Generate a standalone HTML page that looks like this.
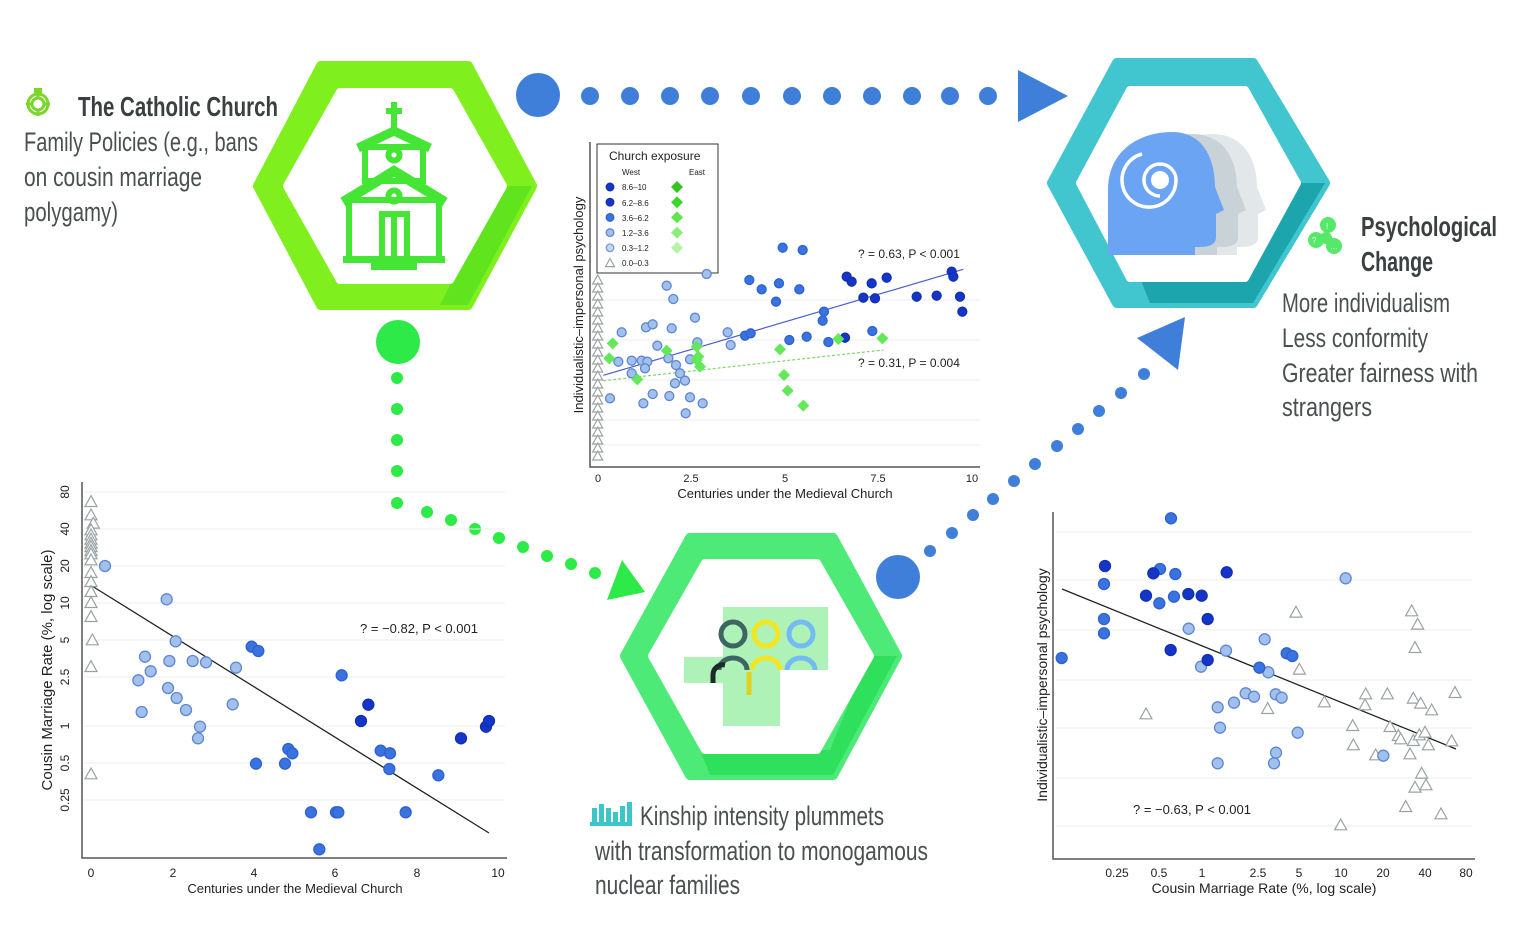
<!DOCTYPE html>
<html><head><meta charset="utf-8"><style>
html,body{margin:0;padding:0;background:#fff;}
svg{display:block;}
.t{font-family:"Liberation Sans Narrow","Liberation Sans",sans-serif;fill:#4a4f50;}
.b{font-weight:bold;fill:#3a3f40;}
.s{font-family:"Liberation Sans",sans-serif;fill:#222;}
</style></head><body>
<svg id="g" width="1535" height="945" viewBox="0 0 1535 945" xmlns="http://www.w3.org/2000/svg">
<rect width="1535" height="945" fill="#fff"/>

<!-- Church hexagon -->
<polygon points="258,186 321,66 468,66 532,186 468,305 321,305" fill="#7ff01e" stroke="#7ff01e" stroke-width="10" stroke-linejoin="round"/>
<polygon points="440,305 468,305 532,186 500,186" fill="#5fe41e"/>
<polygon points="287,186 340,92 450,92 503,186 450,280 340,280" fill="#fff" stroke="#fff" stroke-width="8" stroke-linejoin="round"/>
<!-- church icon -->
<g fill="none" stroke="#45e535" stroke-width="6" stroke-linejoin="miter">
<line x1="394" y1="102" x2="394" y2="130"/><line x1="386" y1="111" x2="402" y2="111"/>
<polyline points="358,148 394,131 430,148" stroke-width="9"/>
<rect x="365" y="147" width="58" height="34"/>
<polyline points="343,202 394,171 445,202" stroke-width="10"/>
<rect x="349" y="200" width="90" height="60"/>
<rect x="382" y="214" width="25" height="46"/>
<line x1="394" y1="214" x2="394" y2="260"/>
<circle cx="394" cy="155" r="5.5"/><circle cx="394" cy="196" r="5.5"/>
</g>
<rect x="343" y="256" width="102" height="7" fill="#45e535"/>
<rect x="371" y="261" width="46" height="9" fill="#45e535"/>

<!-- Psych hexagon -->
<polygon points="1052,183 1117,63 1253,63 1325,183 1253,303 1117,303" fill="#41c6d0" stroke="#41c6d0" stroke-width="10" stroke-linejoin="round"/>
<polygon points="1150,303 1253,303 1325,183 1290,183 1250,278 1140,278" fill="#1ca5ad"/>
<polygon points="1080,183 1130,90 1245,90 1297,183 1245,278 1130,278" fill="#fff" stroke="#fff" stroke-width="8" stroke-linejoin="round"/>
<!-- heads -->
<path d="M1150,255 L1150,190 C1150,150 1182,134 1212,134 C1242,134 1257,157 1257,187 L1266,210 L1258,214 L1258,237 C1258,247 1247,247 1237,247 L1237,255 Z" fill="#e2e8ea"/>
<path d="M1130,255 L1130,190 C1130,150 1162,134 1192,134 C1222,134 1237,157 1237,187 L1246,210 L1238,214 L1238,237 C1238,247 1227,247 1217,247 L1217,255 Z" fill="#c9d3d7"/>
<path d="M1108,255 L1108,190 C1108,150 1140,132 1172,132 C1202,132 1215,157 1215,187 L1224,210 L1216,214 L1216,237 C1216,247 1205,247 1195,247 L1195,255 Z" fill="#6ba4f2"/>
<circle cx="1160" cy="180" r="9" fill="#fff"/>
<path d="M1160,196 a16,16 0 1 1 16,-16 M1176,180 a27,27 0 1 1 -34,-26" fill="none" stroke="#fff" stroke-width="3.5"/>

<!-- Kinship hexagon -->
<polygon points="625,656 690,538 833,538 897,656 833,775 690,775" fill="#4eea78" stroke="#4eea78" stroke-width="10" stroke-linejoin="round"/>
<polygon points="710,775 833,775 897,656 868,656 830,750 700,750" fill="#2fe05c"/>
<polygon points="652,656 705,563 817,563 870,656 817,750 705,750" fill="#fff" stroke="#fff" stroke-width="8" stroke-linejoin="round"/>
<rect x="723" y="607" width="105" height="63" fill="#aef2b8"/>
<rect x="684" y="657" width="39" height="26" fill="#aef2b8"/>
<rect x="723" y="670" width="57" height="56" fill="#aef2b8"/>
<g fill="none" stroke-width="5">
<circle cx="733" cy="634" r="12" stroke="#3d6663"/>
<circle cx="766" cy="634" r="12" stroke="#f1e524"/>
<circle cx="801" cy="634" r="12" stroke="#74bbf3"/>
<path d="M719,670 a14,12 0 0 1 28,0" stroke="#3d6663"/>
<path d="M752,670 a14,12 0 0 1 28,0" stroke="#f1e524"/>
<path d="M787,670 a14,12 0 0 1 28,0" stroke="#74bbf3"/>
<path d="M713,683 l0,-8 a10,10 0 0 1 12,-10" stroke="#1e2a2a"/>
<line x1="749" y1="672" x2="749" y2="695" stroke="#e0d020"/>
</g>

<!-- connectors -->
<g fill="#3f7fd9">
<circle cx="538" cy="95" r="22"/>
<circle cx="590" cy="96" r="9"/><circle cx="630" cy="96" r="9"/><circle cx="670" cy="96" r="9"/><circle cx="710" cy="96" r="9"/><circle cx="751" cy="96" r="9"/><circle cx="792" cy="96" r="9"/><circle cx="832" cy="96" r="9"/><circle cx="872" cy="96" r="9"/><circle cx="912" cy="96" r="9"/><circle cx="950" cy="96" r="9"/><circle cx="988" cy="96" r="9"/>
<polygon points="1018,70 1068,96 1018,122"/>
<circle cx="898" cy="577" r="22"/>
<circle cx="930" cy="551" r="6"/><circle cx="952" cy="533" r="6"/><circle cx="973" cy="515" r="6"/><circle cx="993" cy="499" r="6"/><circle cx="1014" cy="481" r="6"/><circle cx="1035" cy="464" r="6"/><circle cx="1057" cy="446" r="6"/><circle cx="1078" cy="429" r="6"/><circle cx="1099" cy="411" r="6"/><circle cx="1121" cy="393" r="6"/><circle cx="1144" cy="374" r="6"/>
<polygon points="1137,338 1185,317 1178,370"/>
</g>
<g fill="#2eea48">
<circle cx="398" cy="342" r="22"/>
<circle cx="397" cy="378" r="6"/><circle cx="397" cy="409" r="6"/><circle cx="397" cy="440" r="6"/><circle cx="397" cy="471" r="6"/><circle cx="397" cy="503" r="6"/>
<circle cx="427" cy="512" r="6"/><circle cx="451" cy="520" r="6"/><circle cx="475" cy="529" r="6"/><circle cx="499" cy="538" r="6"/><circle cx="523" cy="547" r="6"/><circle cx="547" cy="556" r="6"/><circle cx="571" cy="564" r="6"/><circle cx="595" cy="573" r="6"/>
<polygon points="607,600 622,560 645,592"/>
</g>

<!-- Text blocks -->
<g fill="none" stroke="#7ad62a" stroke-width="3"><circle cx="38" cy="104" r="10"/><circle cx="38" cy="104" r="4"/></g>
<g stroke="#7ad62a" stroke-width="3"><line x1="26" y1="104" x2="50" y2="104"/><line x1="38" y1="92" x2="38" y2="116"/></g>
<circle cx="38" cy="104" r="6" fill="#fff" stroke="#7ad62a" stroke-width="3"/>
<rect x="34" y="88" width="8" height="5" fill="#7ad62a"/>
<text class="t b" x="78" y="116" font-size="28" textLength="200" lengthAdjust="spacingAndGlyphs">The Catholic Church</text>
<text class="t" x="24" y="151" font-size="27" textLength="234" lengthAdjust="spacingAndGlyphs">Family Policies (e.g., bans</text>
<text class="t" x="24" y="186" font-size="27" textLength="178" lengthAdjust="spacingAndGlyphs">on cousin marriage</text>
<text class="t" x="24" y="221" font-size="27" textLength="94" lengthAdjust="spacingAndGlyphs">polygamy)</text>

<g fill="#55e96a"><circle cx="1328" cy="225" r="8"/><circle cx="1316" cy="240" r="8"/><circle cx="1334" cy="246" r="8"/><circle cx="1326" cy="238" r="6"/></g>
<g fill="#fff" font-family="Liberation Sans,sans-serif" font-size="8"><text x="1326" y="229">!</text><text x="1312" y="243">?</text><text x="1330" y="249">…</text></g>
<text class="t b" x="1361" y="236" font-size="28" textLength="136" lengthAdjust="spacingAndGlyphs">Psychological</text>
<text class="t b" x="1361" y="271" font-size="28" textLength="72" lengthAdjust="spacingAndGlyphs">Change</text>
<text class="t" x="1282" y="312" font-size="27" textLength="168" lengthAdjust="spacingAndGlyphs">More individualism</text>
<text class="t" x="1282" y="347" font-size="27" textLength="146" lengthAdjust="spacingAndGlyphs">Less conformity</text>
<text class="t" x="1282" y="382" font-size="27" textLength="196" lengthAdjust="spacingAndGlyphs">Greater fairness with</text>
<text class="t" x="1282" y="416" font-size="27" textLength="90" lengthAdjust="spacingAndGlyphs">strangers</text>

<g fill="#3cc6cc"><rect x="590" y="822" width="42" height="4"/><rect x="592" y="808" width="5" height="14"/><rect x="599" y="804" width="5" height="18"/><rect x="606" y="808" width="5" height="14"/><rect x="613" y="812" width="5" height="10"/><rect x="620" y="806" width="5" height="16"/><rect x="627" y="802" width="5" height="20"/></g>
<text class="t" x="640" y="825" font-size="27" textLength="244" lengthAdjust="spacingAndGlyphs">Kinship intensity plummets</text>
<text class="t" x="595" y="860" font-size="27" textLength="333" lengthAdjust="spacingAndGlyphs">with transformation to monogamous</text>
<text class="t" x="595" y="894" font-size="27" textLength="145" lengthAdjust="spacingAndGlyphs">nuclear families</text>

<!-- Center plot axes -->
<g stroke="#eee" stroke-width="1"><line x1="592" y1="300" x2="980" y2="300"/><line x1="592" y1="340" x2="980" y2="340"/><line x1="592" y1="380" x2="980" y2="380"/><line x1="592" y1="420" x2="980" y2="420"/><line x1="592" y1="445" x2="980" y2="445"/></g>
<polyline points="590,142 590,467 980,467" fill="none" stroke="#555" stroke-width="1.5"/>
<g class="s" font-size="11" text-anchor="middle"><text x="598" y="482">0</text><text x="691" y="482">2.5</text><text x="785" y="482">5</text><text x="878" y="482">7.5</text><text x="972" y="482">10</text></g>
<text class="s" x="785" y="498" font-size="13" text-anchor="middle">Centuries under the Medieval Church</text>
<text class="s" font-size="13" text-anchor="middle" transform="translate(583,305) rotate(-90)">Individualistic–impersonal psychology</text>
<text class="s" x="858" y="258" font-size="12">? = 0.63, P &lt; 0.001</text>
<text class="s" x="858" y="367" font-size="12">? = 0.31, P = 0.004</text>
<rect x="597" y="144" width="121" height="129" fill="#fff" stroke="#333" stroke-width="1"/>
<text class="s" x="609" y="160" font-size="12">Church exposure</text>
<text class="s" x="622" y="175" font-size="8">West</text><text class="s" x="689" y="175" font-size="8">East</text>
<g class="s" font-size="8"><text x="622" y="190">8.6–10</text><text x="622" y="206">6.2–8.6</text><text x="622" y="221">3.6–6.2</text><text x="622" y="236">1.2–3.6</text><text x="622" y="251">0.3–1.2</text><text x="622" y="266">0.0–0.3</text></g>

<!-- Bottom-left plot -->
<g stroke="#eee"><line x1="84" y1="492" x2="505" y2="492"/><line x1="84" y1="529" x2="505" y2="529"/><line x1="84" y1="566" x2="505" y2="566"/><line x1="84" y1="603" x2="505" y2="603"/><line x1="84" y1="640" x2="505" y2="640"/><line x1="84" y1="677" x2="505" y2="677"/><line x1="84" y1="726" x2="505" y2="726"/><line x1="84" y1="763" x2="505" y2="763"/><line x1="84" y1="800" x2="505" y2="800"/></g>
<polyline points="82,482 82,858 507,858" fill="none" stroke="#555" stroke-width="1.5"/>
<g class="s" font-size="12" text-anchor="middle"><text x="91" y="877">0</text><text x="173" y="877">2</text><text x="254" y="877">4</text><text x="335" y="877">6</text><text x="417" y="877">8</text><text x="498" y="877">10</text></g>
<g class="s" font-size="12" text-anchor="middle">
<text transform="translate(69,492) rotate(-90)">80</text><text transform="translate(69,529) rotate(-90)">40</text><text transform="translate(69,566) rotate(-90)">20</text><text transform="translate(69,603) rotate(-90)">10</text><text transform="translate(69,640) rotate(-90)">5</text><text transform="translate(69,677) rotate(-90)">2.5</text><text transform="translate(69,726) rotate(-90)">1</text><text transform="translate(69,763) rotate(-90)">0.5</text><text transform="translate(69,800) rotate(-90)">0.25</text></g>
<text class="s" x="295" y="893" font-size="13" text-anchor="middle">Centuries under the Medieval Church</text>
<text class="s" font-size="15" text-anchor="middle" transform="translate(52,670) rotate(-90)">Cousin Marriage Rate (%, log scale)</text>
<text class="s" x="360" y="633" font-size="13">? = −0.82, P &lt; 0.001</text>
<line x1="92" y1="586" x2="489" y2="833" stroke="#222" stroke-width="1.3"/>

<!-- Bottom-right plot -->
<g stroke="#eee"><line x1="1056" y1="532" x2="1472" y2="532"/><line x1="1056" y1="580" x2="1472" y2="580"/><line x1="1056" y1="630" x2="1472" y2="630"/><line x1="1056" y1="680" x2="1472" y2="680"/><line x1="1056" y1="728" x2="1472" y2="728"/><line x1="1056" y1="778" x2="1472" y2="778"/><line x1="1056" y1="826" x2="1472" y2="826"/></g>
<polyline points="1053,512 1053,859 1475,859" fill="none" stroke="#555" stroke-width="1.5"/>
<g class="s" font-size="12" text-anchor="middle"><text x="1117" y="877">0.25</text><text x="1159" y="877">0.5</text><text x="1202" y="877">1</text><text x="1258" y="877">2.5</text><text x="1299" y="877">5</text><text x="1341" y="877">10</text><text x="1383" y="877">20</text><text x="1425" y="877">40</text><text x="1466" y="877">80</text></g>
<text class="s" x="1264" y="893" font-size="14" text-anchor="middle">Cousin Marriage Rate (%, log scale)</text>
<text class="s" font-size="14" text-anchor="middle" transform="translate(1047,685) rotate(-90)">Individualistic–impersonal psychology</text>
<text class="s" x="1133" y="814" font-size="13">? = −0.63, P &lt; 0.001</text>
<line x1="1062" y1="589" x2="1456" y2="749" stroke="#222" stroke-width="1.3"/>
<g id="m"></g>
</svg>
<script>
var NS="http://www.w3.org/2000/svg",G=document.getElementById("m");
function el(t,a){var e=document.createElementNS(NS,t);for(var k in a)e.setAttribute(k,a[k]);G.appendChild(e);}
var ST={d:{fill:"#1535c6",stroke:"#1230b0"},m:{fill:"#3a72e0",stroke:"#2d62d0"},l:{fill:"#a2c0ec",stroke:"#5f86d2"},l2:{fill:"#c6d7f2",stroke:"#7a9ad6"}};
function C(x,y,s,r){el("circle",{cx:x,cy:y,r:r,fill:ST[s].fill,stroke:ST[s].stroke,"stroke-width":1.3});}
function T(x,y,r){el("polygon",{points:(x)+","+(y-r)+" "+(x-r)+","+(y+r*0.8)+" "+(x+r)+","+(y+r*0.8),fill:"#fff",stroke:"#9aa2a4","stroke-width":1.2});}
function D(x,y,r,f){el("polygon",{points:x+","+(y-r)+" "+(x+r)+","+y+" "+x+","+(y+r)+" "+(x-r)+","+y,fill:f||"#62e858"});}
function P(list,ox,oy,fn){list.forEach(function(p){fn(ox+p[0]/3,oy+p[1]/3);});}
el("line",{x1:560+130/3,y1:140+706/3,x2:560+1210/3,y2:140+388/3,stroke:"#4a5fd0","stroke-width":1.2});
el("line",{x1:560+130/3,y1:140+722/3,x2:560+970/3,y2:140+630/3,stroke:"#7fd86a","stroke-width":1.2,"stroke-dasharray":"3,2"});
var tr=[];for(var y=420;y<=950;y+=24)tr.push([113+(y%3)*5,y]);
P(tr,560,140,function(x,y){T(x,y,5);});
P([[1175,395],[1180,410],[1070,470],[1130,467],[1200,470],[1207,515],[860,410],[875,425],[980,413],[935,430],[910,473],[945,475],[855,593]],560,140,function(x,y){C(x,y,"d",4.5);});
P([[668,323],[728,330],[568,420],[605,448],[657,430],[718,448],[648,485],[792,515],[788,542],[555,587],[572,580],[688,600],[740,590],[805,606],[937,573]],560,140,function(x,y){C(x,y,"m",4.5);});
P([[440,402],[320,437],[340,477],[185,577],[258,562],[278,553],[335,565],[405,533],[503,577],[512,615],[292,617],[412,607],[175,665],[215,662],[245,662],[262,665],[255,685],[325,655],[348,675],[390,658],[215,700],[360,700],[375,722],[345,730],[150,775],[250,790],[278,762],[328,768],[390,772],[428,790],[377,820]],560,140,function(x,y){C(x,y,"l",4.5);});
P([[158,610],[148,655],[232,718],[320,632],[410,620],[415,650],[420,680],[410,660],[660,628],[672,705],[683,752],[730,797],[835,597],[967,595]],560,140,function(x,y){D(x,y,6);});
var lg=[["d","#33c41e"],["d","#3ad82a"],["m","#5ee64a"],["l","#8aec7a"],["l2","#b6f2a8"]];
lg.forEach(function(a,i){var y=187+i*15.2;C(610,y,a[0],3.8);D(677,y,6,a[1]);});
T(610,263,4.5);
var tb=[[183,65],[183,105],[190,130],[183,150],[183,165],[183,178],[183,190],[183,200],[183,212],[183,222],[183,240],[183,278],[183,305],[183,335],[183,368],[183,410],[187,480],[183,560],[183,882]];
P(tb,30,480,function(x,y){T(x,y,6);});
P([[225,258],[410,358],[437,484],[345,530],[418,543],[488,543],[528,547],[362,574],[618,563],[325,601],[414,624],[440,654],[468,690],[335,696],[608,673],[510,740],[504,775]],30,480,function(x,y){C(x,y,"l",5.5);});
P([[665,500],[685,513],[935,586],[678,851],[765,851],[775,807],[787,820],[843,997],[918,997],[925,997],[868,1108],[1052,812],[1080,820],[1078,867],[1225,886],[1127,997]],30,480,function(x,y){C(x,y,"m",5.5);});
P([[993,723],[1015,674],[1293,775],[1368,740],[1377,723]],30,480,function(x,y){C(x,y,"d",5.5);});
P([[798,337],[1145,333],[1163,373],[1155,443],[808,508],[348,642],[713,626],[883,606],[1007,582],[1072,582],[1005,615],[1150,595],[1172,610],[1205,630],[1275,578],[968,677],[1080,680],[1105,707],[1112,717],[1150,722],[1168,705],[1185,697],[1195,735],[1265,723],[970,735],[1037,765],[1140,762],[1175,820],[1155,862],[1188,855],[1127,920],[1233,942],[932,975]],1030,500,function(x,y){T(x,y,6);});
P([[947,235],[476,386],[588,452],[704,418],[513,500],[715,517],[647,580],[672,590],[737,583],[755,593],[612,608],[563,622],[570,683],[803,698],[738,758],[732,790],[563,790],[1060,767]],1030,500,function(x,y){C(x,y,"l",5.5);});
P([[423,55],[390,207],[436,222],[432,290],[388,310],[222,252],[222,357],[222,400],[95,474],[770,460],[787,468],[688,503]],1030,500,function(x,y){C(x,y,"m",5.5);});
P([[225,198],[370,220],[590,217],[348,287],[475,282],[515,287],[533,357],[422,450],[533,480]],1030,500,function(x,y){C(x,y,"d",5.5);});
</script>
</body></html>
